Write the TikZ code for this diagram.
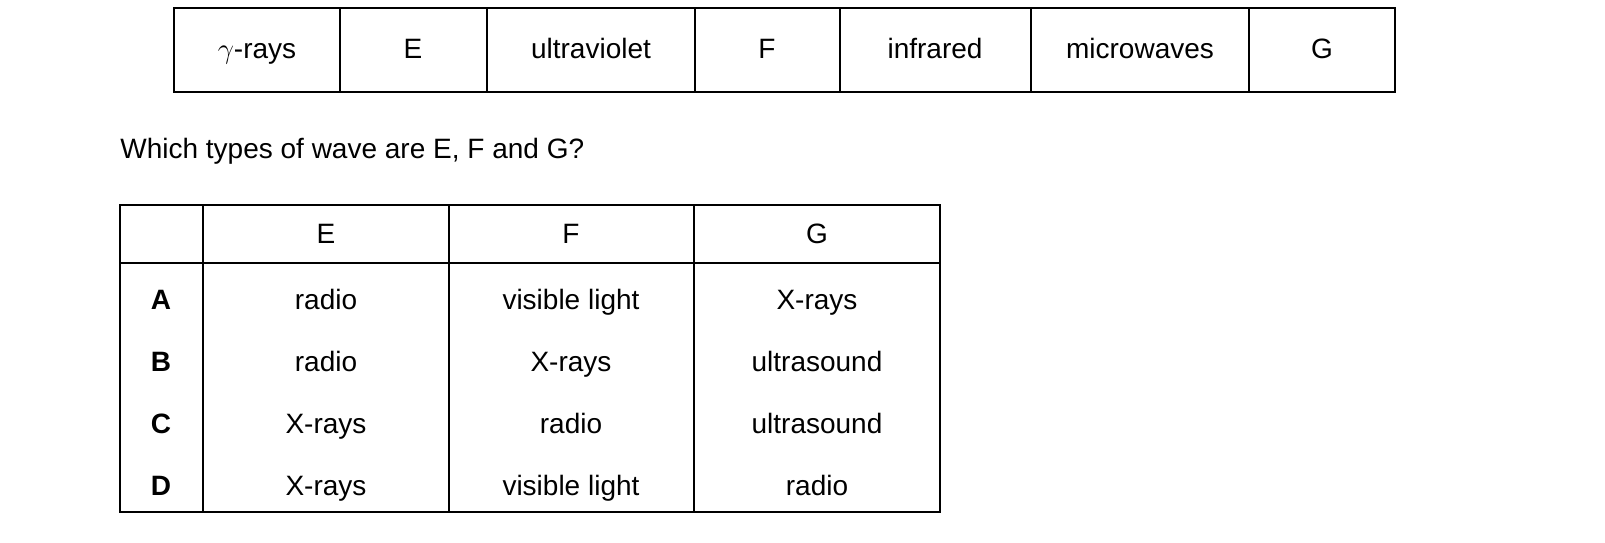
\documentclass[tikz,border=0pt]{standalone}
\usepackage{fontspec}
\setmainfont{Liberation Sans}
\usepackage{tikz}
\usetikzlibrary{positioning}
\tikzset{
  cell/.style={font=\fontsize{14}{16}\selectfont, anchor=center, inner sep=0pt,
               text height=10pt, text depth=3pt},
  grid/.style={line width=0.6pt, black}
}
\begin{document}
\begin{tikzpicture}[x=0.5pt, y=-0.5pt]
% Spectrum strip
\draw[grid] (174,8) rectangle (1395,92);
\foreach \x in {340,487,695,840,1031,1249}
  \draw[grid] (\x,8) -- (\x,92);
\node[cell] (gamma) at (257,51) {$\gamma$-rays};
\node[cell] (e) at (413,51) {E};
\node[cell] (uv) at (591,51) {ultraviolet};
\node[cell] (f) at (767,51) {F};
\node[cell] (ir) at (935,51) {infrared};
\node[cell] (micro) at (1140,51) {microwaves};
\node[cell] (g) at (1322,51) {G};

% Question
\node[cell, anchor=west] (question) at (120,151) {Which types of wave are E, F and G?};

% Answer table
\draw[grid] (120,205) rectangle (940,512);
\draw[grid] (120,263) -- (940,263);
\foreach \x in {203,449,694}
  \draw[grid] (\x,205) -- (\x,512);
\node[cell] (he) at (326,236) {E};
\node[cell] (hf) at (571,236) {F};
\node[cell] (hg) at (817,236) {G};
\foreach \y/\k/\a/\b/\c in {302/A/radio/visible light/X-rays,
                            364/B/radio/X-rays/ultrasound,
                            426/C/X-rays/radio/ultrasound,
                            488/D/X-rays/visible light/radio}{
  \node[cell, font=\fontsize{14}{16}\selectfont\bfseries] (key\k) at (161,\y) {\k};
  \node[cell] (e\k) at (326,\y) {\a};
  \node[cell] (f\k) at (571,\y) {\b};
  \node[cell] (g\k) at (817,\y) {\c};
}
\pgfresetboundingbox
\path[use as bounding box] (0,0) rectangle (1605,542);
\end{tikzpicture}
\end{document}
